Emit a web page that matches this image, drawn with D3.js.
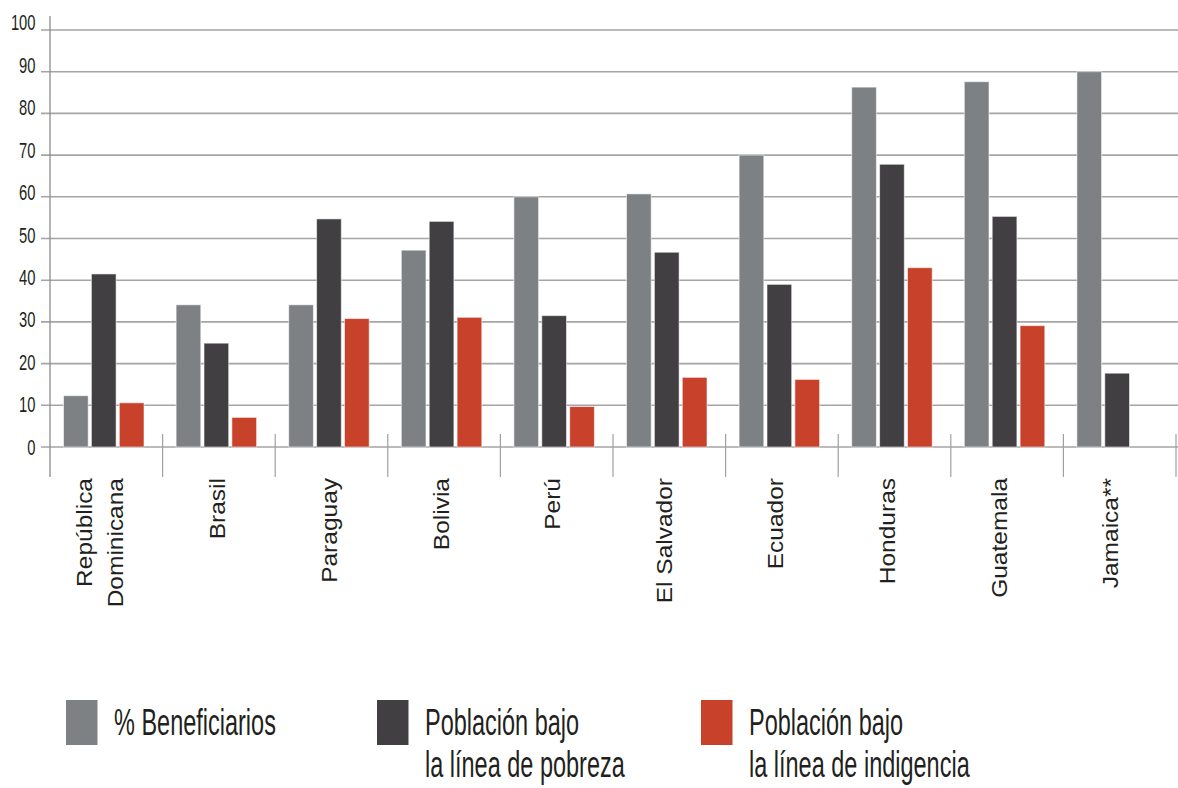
<!DOCTYPE html>
<html>
<head>
<meta charset="utf-8">
<script src="https://cdn.jsdelivr.net/npm/d3@7"></script>
<style>
  html, body { margin: 0; padding: 0; background: #fff; }
  svg { display: block; }
  text { font-family: "Liberation Sans", Arial, Helvetica, sans-serif; fill: #231f20; }
</style>
</head>
<body>
<svg id="chart" width="1178" height="788"></svg>
<script>
// Countries (multi-line names split with "\n")
const categories = ["República\nDominicana", "Brasil", "Paraguay", "Bolivia", "Perú",
                    "El Salvador", "Ecuador", "Honduras", "Guatemala", "Jamaica**"];

// Percentages per country
const beneficiarios = [12.3, 34.1, 34.1, 47.2, 60.0, 60.7, 70.0, 86.3, 87.6, 90.0];
const pobreza       = [41.5, 24.9, 54.7, 54.1, 31.5, 46.7, 39.0, 67.8, 55.3, 17.7];
const indigencia    = [10.6,  7.1, 30.8, 31.1,  9.7, 16.7, 16.2, 43.0, 29.1, null];

const seriesNames  = ["% Beneficiarios", "Población bajo\nla línea de pobreza", "Población bajo\nla línea de indigencia"];
const seriesColors = ["#7e8184", "#413f42", "#c8412a"];
const yTicks = [0, 10, 20, 30, 40, 50, 60, 70, 80, 90, 100];

const series = [beneficiarios, pobreza, indigencia];
const keys = [0, 1, 2];

const svg = d3.select("#chart");

// Scales
const x0 = d3.scaleBand().domain(d3.range(categories.length)).range([50, 1176]).padding(0);
const x1 = d3.scaleBand().domain(keys).range([13.5, 94]).paddingInner(0.115).paddingOuter(0);
const xLabel = d3.scaleBand().domain(d3.range(categories.length)).range([50, 1166]);
const y = d3.scaleLinear().domain([0, 100]).range([447, 30]);
const yLabel = d3.scaleLinear().domain([0, 100]).range([447, 22.5]);

// Horizontal gridlines
svg.append("g").selectAll("line").data(yTicks).join("line")
  .attr("x1", 41).attr("x2", 1178)
  .attr("y1", d => y(d)).attr("y2", d => y(d))
  .attr("stroke", "#a5a5a5").attr("stroke-width", 1.6);

// Vertical axis line
svg.append("line")
  .attr("x1", 50).attr("x2", 50).attr("y1", 16).attr("y2", 477)
  .attr("stroke", "#8c8c8c").attr("stroke-width", 1.3);

// Category separators
svg.append("g").selectAll("line").data(d3.range(1, categories.length + 1)).join("line")
  .attr("x1", d => x0(0) + d * x0.step()).attr("x2", d => x0(0) + d * x0.step())
  .attr("y1", 434).attr("y2", 477)
  .attr("stroke", "#a0a0a0").attr("stroke-width", 1.2);

// Y tick labels (condensed)
svg.append("g").selectAll("text").data(yTicks).join("text")
  .attr("transform", d => `translate(35.5,${yLabel(d) + 7.8}) scale(0.67,1)`)
  .attr("text-anchor", "end")
  .attr("font-size", 22)
  .text(d => d);

// Bars
const rows = categories.map((c, i) => ({ i, vals: series.map(s => s[i]) }));
const groups = svg.append("g").selectAll("g").data(rows).join("g")
  .attr("transform", d => `translate(${x0(d.i)},0)`);
groups.selectAll("rect")
  .data(d => keys.map(k => ({ k, v: d.vals[k] })).filter(e => e.v != null))
  .join("rect")
  .attr("x", d => x1(d.k))
  .attr("width", x1.bandwidth())
  .attr("y", d => y(d.v))
  .attr("height", d => y(0) - y(d.v))
  .attr("fill", d => seriesColors[d.k])
  .attr("stroke", "rgba(255,255,255,0.55)")
  .attr("stroke-width", 1);

// Category labels, rotated
const labelSize = 24.5, labelSquash = 0.92, lineStep = 31;
const capH = 0.716 * labelSize * labelSquash;
const lbl = svg.append("g").selectAll("g").data(categories.map((c, i) => ({ i, lines: c.split("\n") })))
  .join("g");
lbl.each(function (d) {
  const n = d.lines.length;
  const cx = xLabel(d.i) + xLabel.bandwidth() / 2;
  d3.select(this).selectAll("text").data(d.lines).join("text")
    .attr("transform", (t, j) => {
      const bx = cx + capH / 2 + (j - (n - 1) / 2) * lineStep - 6 * (n - 1);
      return `translate(${bx},478) rotate(-90) scale(1,${labelSquash})`;
    })
    .attr("text-anchor", "end")
    .attr("font-size", labelSize)
    .attr("fill", "#161616")
    .text(t => t);
});

// Legend
const legendX = [66, 377, 701];
const legend = svg.append("g").selectAll("g").data(keys).join("g");
legend.append("rect")
  .attr("x", k => legendX[k]).attr("y", 700)
  .attr("width", 31.5).attr("height", 45)
  .attr("fill", k => seriesColors[k]);
legend.each(function (k) {
  d3.select(this).selectAll("text").data(seriesNames[k].split("\n")).join("text")
    .attr("transform", (t, j) => `translate(${legendX[k] + 48},${735 + j * 42}) scale(0.635,1)`)
    .attr("font-size", 37)
    .text(t => t);
});
</script>
</body>
</html>
